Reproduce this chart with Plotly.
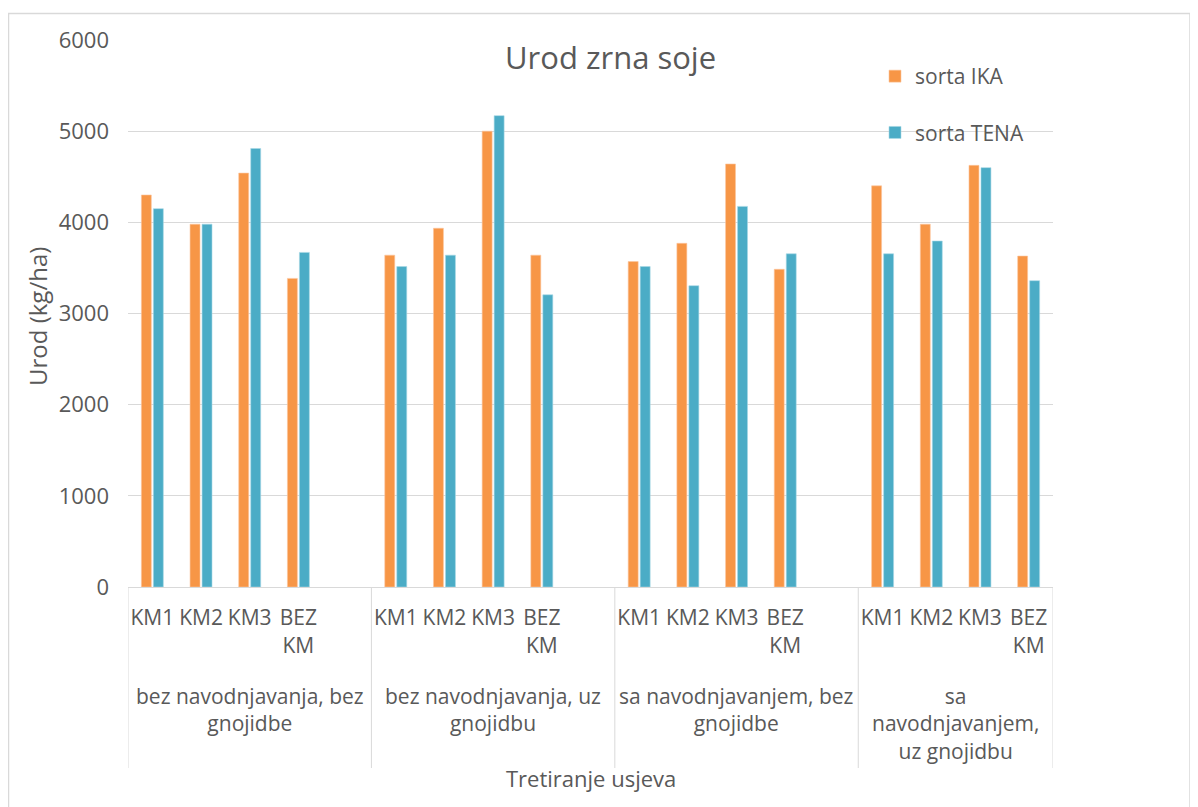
import plotly.graph_objects as go

# ---- data ----
groups = [
    "bez navodnjavanja, bez<br>gnojidbe",
    "bez navodnjavanja, uz<br>gnojidbu",
    "sa navodnjavanjem, bez<br>gnojidbe",
    "sa<br>navodnjavanjem,<br>uz gnojidbu",
]
subcats = ["KM1", "KM2", "KM3", "BEZ<br>KM"]
ika = [4300, 3980, 4540, 3385,
       3640, 3935, 5000, 3640,
       3570, 3770, 4640, 3485,
       4400, 3980, 4625, 3630]
tena = [4150, 3980, 4810, 3670,
        3515, 3640, 5170, 3205,
        3515, 3305, 4175, 3655,
        3655, 3795, 4600, 3360]
series_names = ["sorta IKA", "sorta TENA"]
title_text = "Urod zrna soje"
y_title = "Urod (kg/ha)"
x_title = "Tretiranje usjeva"

# ---- layout helpers (screen coordinates; page body has an 8px margin) ----
OFF = 8
W, H = 1198 - OFF, 807 - OFF
L, R, T, B = 128, 1053, 40, 587
pw, ph = R - L, B - T
def px(x):
    return (x - L) / pw
def py(y):
    return (B - y) / ph

slot = len(subcats) + 1  # one blank slot after each group except the last
xpos = [g * slot + i for g in range(len(groups)) for i in range(len(subcats))]
xlabels = [subcats[i] for g in range(len(groups)) for i in range(len(subcats))]
xmax = (len(groups) - 1) * slot + len(subcats) - 1

grey = "#595959"
line_c = "#d9d9d9"
font_f = "Open Sans"

fig = go.Figure()
fig.add_trace(go.Bar(x=xpos, y=ika, name=series_names[0], legendgroup="a",
                     marker=dict(color="#F79646", line=dict(color="#fbc6a0", width=0.6))))
fig.add_trace(go.Bar(x=xpos, y=tena, name=series_names[1], legendgroup="b",
                     marker=dict(color="#4BACC6", line=dict(color="#a8d8e6", width=0.6))))

shapes = []
seps = [-0.5] + [(g + 1) * slot - 0.5 for g in range(len(groups) - 1)] + [xmax + 0.5]
for s in seps:
    shapes.append(dict(type="line", xref="x", yref="paper", x0=s, x1=s, y0=0, y1=py(768),
                       line=dict(color=line_c, width=1)))
shapes.append(dict(type="rect", xref="paper", yref="paper", x0=px(8.5), x1=px(1190),
                   y0=py(815), y1=py(13.5), line=dict(color=line_c, width=1.5), layer="below"))

annotations = []
for g, name in enumerate(groups):
    cx = (seps[g] + seps[g + 1]) / 2
    annotations.append(dict(text=name, x=cx, xref="x", y=py(680), yref="paper",
                            xanchor="center", yanchor="top", showarrow=False,
                            font=dict(family=font_f, size=21, color=grey), align="center"))
annotations.append(dict(text=x_title, x=0.5, xref="paper", y=py(778), yref="paper",
                        xanchor="center", yanchor="middle", showarrow=False,
                        font=dict(family=font_f, size=22, color=grey)))
annotations.append(dict(text=y_title, x=px(38), xref="paper", y=py(317), yref="paper",
                        xanchor="center", yanchor="middle", showarrow=False, textangle=-90,
                        font=dict(family=font_f, size=24, color=grey)))
annotations.append(dict(text=title_text, x=px(610), xref="paper", y=py(57), yref="paper",
                        xanchor="center", yanchor="middle", showarrow=False,
                        font=dict(family=font_f, size=31, color=grey)))

fig.update_layout(
    width=W, height=H,
    margin=dict(l=L - OFF, r=W - (R - OFF), t=T - OFF, b=H - (B - OFF), pad=0),
    paper_bgcolor="white", plot_bgcolor="white",
    barmode="group", bargap=0.507, bargroupgap=0.17,
    showlegend=True,
    legend=dict(x=px(875), y=py(56), xanchor="left", yanchor="top",
                font=dict(family=font_f, size=21, color=grey),
                traceorder="grouped", tracegroupgap=26, bgcolor="rgba(0,0,0,0)"),
    shapes=shapes, annotations=annotations,
    font=dict(family=font_f, color=grey),
)
fig.update_xaxes(range=[-0.5, xmax + 0.5], tickvals=xpos, ticktext=xlabels,
                 tickfont=dict(family=font_f, size=21, color=grey), tickangle=0,
                 showgrid=False, showline=True, linecolor=line_c, linewidth=1,
                 ticks="", ticklabelstandoff=12, zeroline=False, fixedrange=True)
fig.update_yaxes(range=[0, 6000], dtick=1000, showgrid=True, gridcolor=line_c, gridwidth=1,
                 showline=False, zeroline=False, ticks="", ticklabelstandoff=18,
                 tickfont=dict(family=font_f, size=22, color=grey), fixedrange=True)

fig.write_html("out.html")
